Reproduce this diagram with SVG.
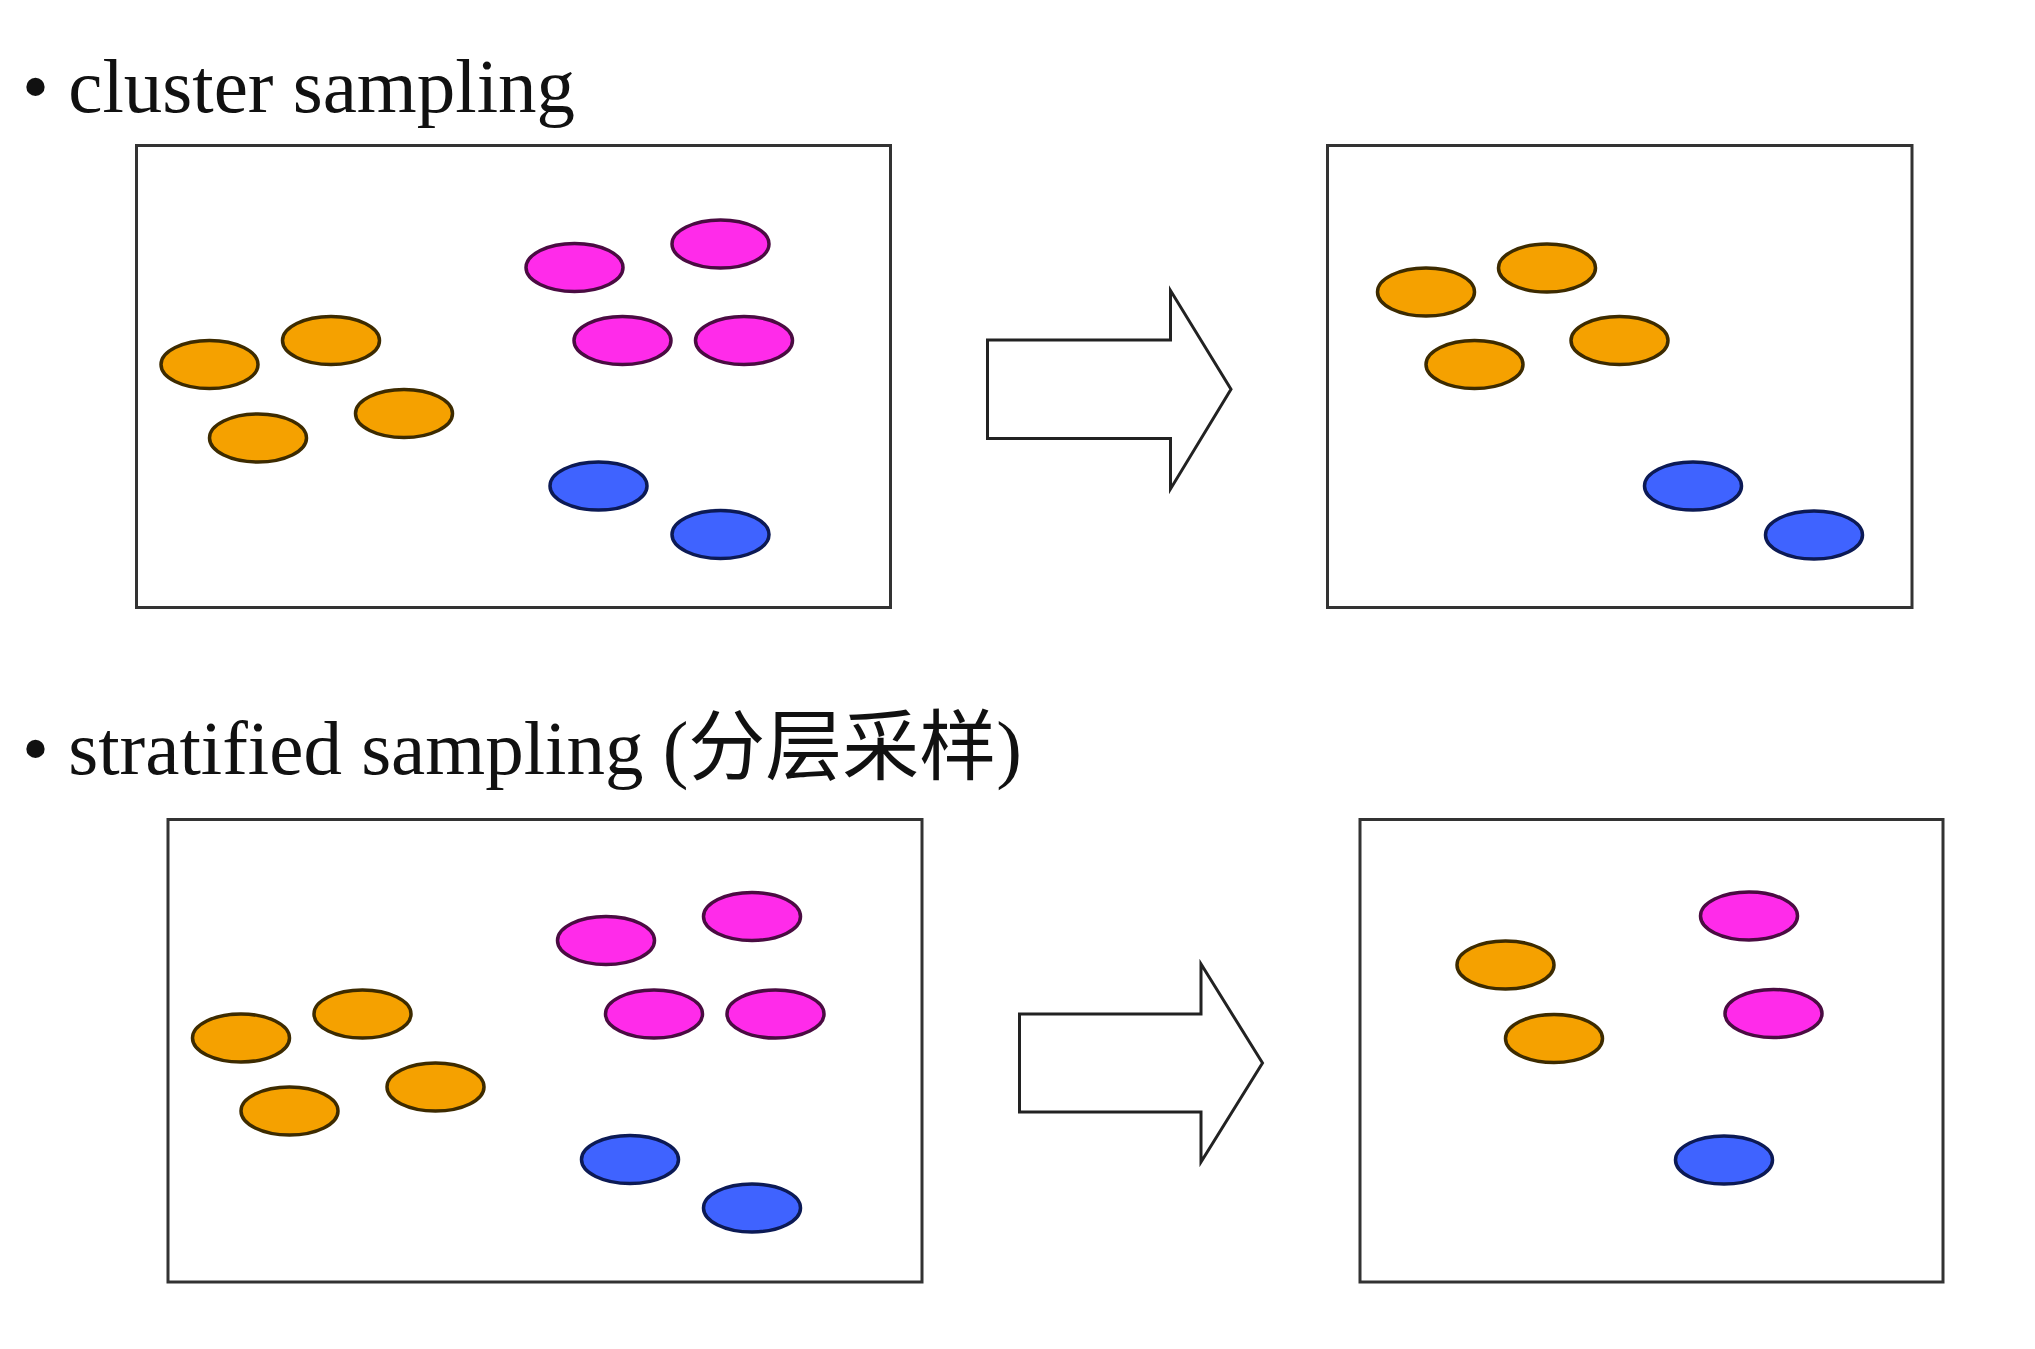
<svg xmlns="http://www.w3.org/2000/svg" width="2035" height="1349" viewBox="0 0 2035 1349">
<style>
.title{font-family:"Liberation Serif","Noto Sans CJK SC",serif;font-size:77px;fill:#111}
.frame{fill:#fff;stroke:#333;stroke-width:3}
.arrow{fill:#fff;stroke:#222;stroke-width:3;stroke-linejoin:miter}
.o{fill:#F5A100;stroke:#3d2b00;stroke-width:3.5}
.p{fill:#FF2BEA;stroke:#4a0c42;stroke-width:3.5}
.b{fill:#3F63FF;stroke:#0c1a55;stroke-width:3.5}
</style>
<defs>
<ellipse id="e" cx="0" cy="0" rx="48.5" ry="24"/>
</defs>
<rect width="2035" height="1349" fill="#fff"/>
<g id="title-cluster"><text class="title" x="22" y="112">• cluster sampling</text></g>
<g id="title-stratified"><text class="title" x="22" y="774">• stratified sampling (分层采样)</text></g>

<g id="cluster-population">
<rect class="frame" x="136.5" y="145.5" width="754" height="462"/>
<use href="#e" class="o" x="209.5" y="364.5"/>
<use href="#e" class="o" x="331" y="340.5"/>
<use href="#e" class="o" x="258" y="438"/>
<use href="#e" class="o" x="404" y="413.5"/>
<use href="#e" class="p" x="574.5" y="267.5"/>
<use href="#e" class="p" x="720.5" y="244"/>
<use href="#e" class="p" x="622.5" y="340.5"/>
<use href="#e" class="p" x="744" y="340.5"/>
<use href="#e" class="b" x="598.5" y="486"/>
<use href="#e" class="b" x="720.5" y="534.5"/>
</g>

<g id="cluster-sample">
<rect class="frame" x="1327.5" y="145.5" width="584.5" height="462"/>
<use href="#e" class="o" x="1426" y="292"/>
<use href="#e" class="o" x="1547" y="268"/>
<use href="#e" class="o" x="1474.5" y="364.5"/>
<use href="#e" class="o" x="1619.5" y="340.5"/>
<use href="#e" class="b" x="1693" y="486"/>
<use href="#e" class="b" x="1814" y="535"/>
</g>

<g id="stratified-population">
<rect class="frame" x="168" y="819.5" width="754" height="462.5"/>
<use href="#e" class="o" x="241" y="1038"/>
<use href="#e" class="o" x="362.5" y="1014"/>
<use href="#e" class="o" x="289.5" y="1111"/>
<use href="#e" class="o" x="435.5" y="1087"/>
<use href="#e" class="p" x="606" y="940.5"/>
<use href="#e" class="p" x="752" y="916.5"/>
<use href="#e" class="p" x="654" y="1014"/>
<use href="#e" class="p" x="775.5" y="1014"/>
<use href="#e" class="b" x="630" y="1159.5"/>
<use href="#e" class="b" x="752" y="1208"/>
</g>

<g id="stratified-sample">
<rect class="frame" x="1360" y="819.5" width="583" height="462.5"/>
<use href="#e" class="o" x="1505.5" y="965"/>
<use href="#e" class="o" x="1554" y="1038.5"/>
<use href="#e" class="p" x="1749" y="916"/>
<use href="#e" class="p" x="1773.5" y="1013.5"/>
<use href="#e" class="b" x="1724" y="1160"/>
</g>

<g id="connectors">
<polygon class="arrow" points="987.5,340 1170.5,340 1170.5,290.5 1231,389.3 1170.5,489 1170.5,438.5 987.5,438.5"/>
<polygon class="arrow" points="1019.5,1014 1201,1014 1201,964 1262.5,1063 1201,1162 1201,1112 1019.5,1112"/>
</g>
</svg>
